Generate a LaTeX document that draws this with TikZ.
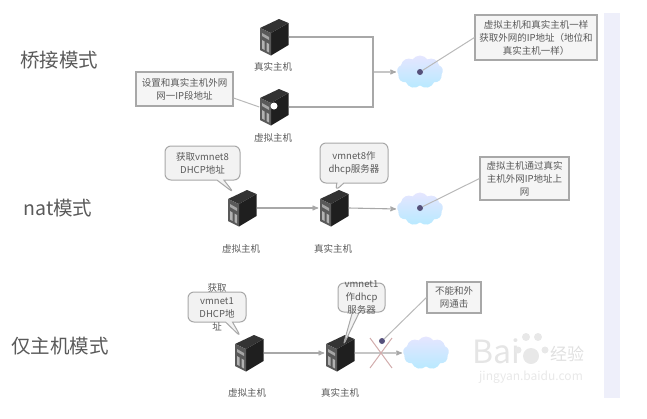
\documentclass[tikz,border=0pt]{standalone}
\usepackage{fontspec}
\setmainfont{Noto Sans CJK SC}
\usetikzlibrary{arrows,shapes.callouts,shapes.symbols}
\definecolor{linegray}{HTML}{A8A8A8}
\definecolor{textgray}{HTML}{5A5A5A}
\definecolor{bandblue}{HTML}{EEEFFA}
\definecolor{dotblue}{HTML}{55507A}
\tikzset{
  >=stealth',
  title/.style={text=textgray, font=\fontsize{19.5}{20}\selectfont, inner sep=0pt},
  hostlabel/.style={text=textgray, font=\fontsize{9.5}{11}\selectfont, inner sep=0pt},
  note/.style={draw=linegray, line width=1.1pt, fill=white!96!black, text=textgray, align=center,
               font=\fontsize{9.5}{13}\selectfont, inner sep=0pt},
  bubble/.style={rectangle callout, rounded corners=6pt, draw=linegray, line width=1pt,
                 fill=white!95!black, text=textgray, align=center, callout pointer width=7pt,
                 font=\fontsize{9.5}{13}\selectfont, inner sep=0pt},
  bubbletext/.style={text=textgray, align=center, inner sep=0pt, font=\fontsize{9.5}{13}\selectfont},
  wire/.style={draw=linegray, line width=1.1pt},
  feed/.style={wire, ->, shorten >=1pt},
  lead/.style={draw=linegray!80, line width=1pt},
  srvnode/.style={minimum width=29pt, minimum height=36pt, inner sep=0pt},
  netcloud/.style={cloud, cloud puffs=9, cloud puff arc=110, aspect=1.5, inner sep=0pt,
                   minimum width=46pt, minimum height=33pt, top color=white!90!blue,
                   bottom color=blue!30!cyan!28!white},
  spot/.style={circle, fill=dotblue, minimum size=6pt, inner sep=0pt},
  pics/serverpic/.style={code={
    \fill[black!80] (-14,-9) -- (5,-18) -- (14.5,-14) -- (-3,-4) -- cycle;
    \fill[black!88] (-3,-4) -- (14.5,-14) -- (14.5,8) -- (-3,18.5) -- cycle;
    \fill[black!65] (-14,-9) -- (-3,-4) -- (-3,18.5) -- (-14,13) -- cycle;
    \fill[black!35] (-12,-4) -- (-5,0) -- (-5,3) -- (-12,-1) -- cycle;
    \fill[black!30] (-12,3) -- (-9.5,4.5) -- (-9.5,13) -- (-12,11.5) -- cycle;
    \fill[black!30] (-7.5,5.5) -- (-5,7) -- (-5,15.5) -- (-7.5,14) -- cycle;
  }}
}

\begin{document}
\begin{tikzpicture}[x=1pt,y=-1pt]
    \useasboundingbox (0,0) rectangle (647,418);
    \fill[bandblue] (604,13) rectangle (620,398);

    % Mode names
    \node[title] (bridgetitle) at (59,60) {桥接模式};
    \node[title] (nattitle) at (58,208) {nat模式};
    \node[title] (hosttitle) at (60,346) {仅主机模式};

    % Servers
    \foreach \name/\px/\py in {realA/274/37,virtA/274/107,virtB/242/208,realB/334/208,virtC/249/353,realC/340/353}{
      \node[srvnode] (\name) at (\px,\py) {};
      \pic at (\name) {serverpic};
    }
    \node[hostlabel] (realAlabel) at (273,67) {真实主机};
    \node[hostlabel] (virtAlabel) at (273,138) {虚拟主机};
    \node[hostlabel] (virtBlabel) at (241,249) {虚拟主机};
    \node[hostlabel] (realBlabel) at (333,249) {真实主机};
    \node[hostlabel] (virtClabel) at (247,393) {虚拟主机};
    \node[hostlabel] (realClabel) at (340,393) {真实主机};

    % Clouds
    \node[netcloud] (cloudA) at (420,72) {};
    \node[netcloud] (cloudB) at (420,209) {};
    \node[netcloud] (cloudC) at (426,353) {};
    \node[spot] (spotA) at (420,72) {};
    \node[spot] (spotB) at (420,208) {};
    \node[spot] (spotC) at (382,341) {};
    \node[circle, fill=white, minimum size=7pt, inner sep=0pt] (spotvirt) at (274,106) {};

    % Notes
    \node[note, minimum width=97pt, minimum height=34pt] (setnote) at (184.5,89) {设置和真实主机外网\\网一IP段地址};
    \node[note, minimum width=122pt, minimum height=45pt] (bridgenote) at (536,37.5) {虚拟主机和真实主机一样\\获取外网的IP地址（地位和\\真实主机一样）};
    \node[note, minimum width=89pt, minimum height=43pt] (natnote) at (524.5,178.5) {虚拟主机通过真实\\主机外网IP地址上\\网};
    \node[note, minimum width=54pt, minimum height=31pt] (hostnote) at (454,297.5) {不能和外\\网通击};

    % Speech bubbles
    \node[bubble, minimum width=75pt, minimum height=34pt, callout absolute pointer={(234,193)}] (bubbleB) at (202.5,163) {获取vmnet8\\DHCP地址};
    \node[bubble, minimum width=68pt, minimum height=40pt, callout absolute pointer={(335,191)}] (bubbleC) at (354,163) {vmnet8作\\dhcp服务器};
    \node[bubble, minimum width=58pt, minimum height=30pt, callout absolute pointer={(241,337)}] (bubbleD) at (217,307) {};
    \node[bubbletext] (bubbleDtext) at (bubbleD) {获取\\vmnet1\\DHCP地\\址};
    \node[bubble, minimum width=47pt, minimum height=29pt, callout absolute pointer={(343,346)}] (bubbleE) at (361.5,297.5) {};
    \node[bubbletext] (bubbleEtext) at (bubbleE) {vmnet1\\作dhcp\\服务器};

    % Connections
    \coordinate (joinA) at (373,72);
    \draw[wire] (realA.east) -- (realA.east -| joinA) -- (virtA.east -| joinA) -- (virtA.east);
    \draw[feed] (joinA) -- (cloudA.west);
    \draw[feed] (virtB.east) -- (realB.west);
    \draw[feed] (realB.east) -- (cloudB.west);
    \draw[feed] (virtC.east) -- (realC.west);
    \draw[feed] (realC.east) -- (cloudC.west);

    % Leader lines
    \draw[lead] (setnote.east |- 0,98) -- (virtA.west);
    \draw[lead] (spotA) -- (bridgenote.west);
    \draw[lead] (spotB) -- (natnote.west);
    \draw[lead] (spotC) -- (hostnote.west);

    % Blocked link
    \coordinate (crossA) at (370,338);
    \coordinate (crossB) at (392,368);
    \coordinate (crossC) at (392,338);
    \coordinate (crossD) at (370,368);
    \draw[red!30!gray!50, line width=1pt] (crossA) -- (crossB) (crossC) -- (crossD);

    % Watermark
    \node[inner sep=0pt, text=black!10, font=\fontsize{32}{32}\selectfont] (markbai) at (496,351) {Bai};
    \node[inner sep=0pt, text=black!12, font=\fontsize{17}{17}\selectfont] (markjy) at (567,354) {经验};
    \node[inner sep=0pt, text=black!9, font=\fontsize{12}{12}\selectfont] (markurl) at (531,377) {jingyan.baidu.com};
    \fill[black!9] (518,350) circle (3.5) (526,337) circle (4) (538,337) circle (4) (545,350) circle (3.5) (531,356) circle (8);
\end{tikzpicture}
\end{document}
